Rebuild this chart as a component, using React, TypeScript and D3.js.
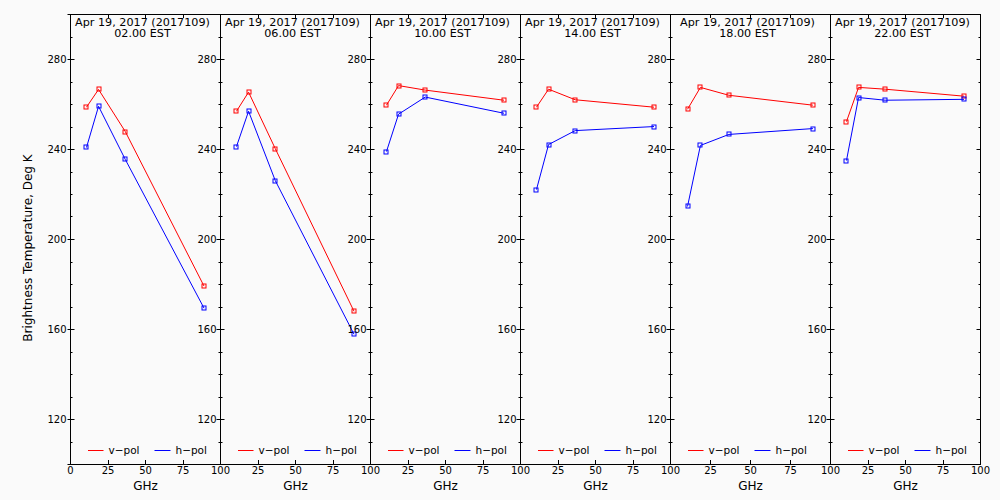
import React from "react";
import * as d3 from "d3";

const freqs = [10.65, 18.7, 36.5, 89.0];
const panelTimes = ["02.00 EST", "06.00 EST", "10.00 EST", "14.00 EST", "18.00 EST", "22.00 EST"];
const dateLabel = "Apr 19, 2017 (2017109)";
const vpol = [
  [258.8, 266.7, 248.0, 179.3],
  [257.0, 265.5, 240.4, 168.1],
  [259.7, 268.4, 266.4, 261.9],
  [258.8, 266.8, 262.1, 258.8],
  [257.9, 267.6, 264.1, 259.7],
  [252.4, 267.6, 266.8, 263.7],
];
const hpol = [
  [240.9, 259.2, 235.6, 169.5],
  [241.3, 257.0, 226.2, 157.9],
  [239.1, 255.7, 263.3, 256.1],
  [222.2, 242.2, 248.4, 250.2],
  [214.7, 241.8, 246.7, 249.3],
  [235.1, 263.1, 261.9, 262.3],
];
const yMajor = [120, 160, 200, 240, 280];
const yMinor = d3.range(100, 301, 10);
const xTicks = [0, 25, 50, 75, 100];

const edges = [70, 220, 370, 520, 670, 830, 980];
const TOP = 14;
const BOTTOM = 464;
const FONT = "DejaVu Sans, sans-serif";

function Panel({ i }: { i: number }) {
  const x0 = edges[i] + 0.5;
  const x1 = edges[i + 1] + 0.5;
  const x = d3.scaleLinear().domain([0, 100]).range([x0, x1]);
  const y = d3.scaleLinear().domain([100, 300]).range([BOTTOM + 0.5, TOP + 0.5]);
  const line = d3
    .line<[number, number]>()
    .x((d) => x(d[0]))
    .y((d) => y(d[1]));
  const series = [
    { vals: vpol[i], color: "#ff0000" },
    { vals: hpol[i], color: "#0000ff" },
  ];
  const cx = (x0 + x1) / 2;
  return (
    <g>
      {series.map((s, k) => {
        const pts = freqs.map((f, j) => [f, s.vals[j]] as [number, number]);
        return (
          <g key={k}>
            <path d={line(pts) || ""} fill="none" stroke={s.color} strokeWidth={1} />
            {pts.map((p, j) => (
              <rect
                key={j}
                x={Math.round(x(p[0])) - 2}
                y={Math.round(y(p[1])) - 2}
                width={4}
                height={4}
                fill="none"
                stroke={s.color}
                strokeWidth={1}
              />
            ))}
          </g>
        );
      })}
      <line x1={x0} x2={x0} y1={TOP} y2={BOTTOM + 1} stroke="#000" />
      <line x1={x1} x2={x1} y1={TOP} y2={BOTTOM + 1} stroke="#000" />
      <line x1={x0} x2={x1} y1={TOP + 0.5} y2={TOP + 0.5} stroke="#000" />
      <line x1={x0} x2={x1} y1={BOTTOM + 0.5} y2={BOTTOM + 0.5} stroke="#000" />
      {yMinor.map((v) => {
        const major = yMajor.includes(v) || v === 100 || v === 300;
        const yy = Math.round(y(v) - 0.5) + 0.5;
        return (
          <g key={v}>
            <line x1={major ? x0 - 3 : x0} x2={x0 + (major ? 4 : 2)} y1={yy} y2={yy} stroke="#000" />
            <line x1={x1 - (major ? 4 : 2)} x2={x1} y1={yy} y2={yy} stroke="#000" />
          </g>
        );
      })}
      {yMajor.map((v) => (
        <text
          key={v}
          x={x0 - 4}
          y={y(v)}
          dy="0.35em"
          textAnchor="end"
          fontFamily={FONT}
          fontSize={10}
          fill="#000"
        >
          {v}
        </text>
      ))}
      {xTicks.map((t) => {
        const xx = Math.round(x(t) - 0.5) + 0.5;
        return (
          <g key={t}>
            <line x1={xx} x2={xx} y1={BOTTOM} y2={BOTTOM - 4} stroke="#000" />
            <line x1={xx} x2={xx} y1={TOP} y2={TOP + 4} stroke="#000" />
            {(t > 0 || i === 0) && (
              <text
                x={x(t)}
                y={474}
                textAnchor="middle"
                fontFamily={FONT}
                fontSize={10}
                fill="#000"
              >
                {t}
              </text>
            )}
          </g>
        );
      })}
      <text x={cx} y={490} textAnchor="middle" fontFamily={FONT} fontSize={12} fill="#000">
        GHz
      </text>
      <text x={cx - 3} y={26} textAnchor="middle" fontFamily={FONT} fontSize={11.2} fill="#000">
        {dateLabel}
      </text>
      <text x={cx - 3} y={37} textAnchor="middle" fontFamily={FONT} fontSize={11.2} fill="#000">
        {panelTimes[i]}
      </text>
      <line x1={x0 + 17.5} x2={x0 + 33} y1={450.5} y2={450.5} stroke="#ff0000" />
      <text x={x0 + 38} y={454} fontFamily={FONT} fontSize={10.5} fill="#000">
        v−pol
      </text>
      <line x1={x0 + 84} x2={x0 + 100} y1={450.5} y2={450.5} stroke="#0000ff" />
      <text x={x0 + 105} y={454} fontFamily={FONT} fontSize={10.5} fill="#000">
        h−pol
      </text>
    </g>
  );
}

export default function App() {
  return (
    <svg
      width={1000}
      height={500}
      style={{ position: "absolute", left: 0, top: 0, background: "#fafafa" }}
    >
      <rect x={0} y={0} width={1000} height={500} fill="#fafafa" />
      {panelTimes.map((_, i) => (
        <Panel key={i} i={i} />
      ))}
      <text
        transform={`translate(32,248) rotate(-90)`}
        textAnchor="middle"
        fontFamily={FONT}
        fontSize={12}
        fill="#000"
      >
        Brightness Temperature, Deg K
      </text>
    </svg>
  );
}
